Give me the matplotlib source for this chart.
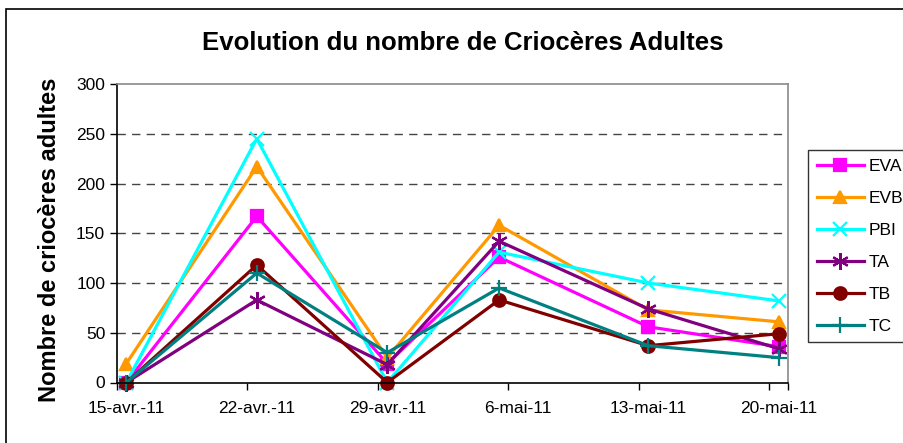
import matplotlib
matplotlib.use("Agg")
import matplotlib.pyplot as plt
import matplotlib.patches as patches
import pandas as pd

plt.rcParams['font.family'] = ['Liberation Sans', 'DejaVu Sans']

# sampling dates and counts
dates = ['2011-04-15', '2011-04-22', '2011-04-29', '2011-05-05', '2011-05-13', '2011-05-20']
eva = [0, 167, 19, 126, 56, 36]
evb = [19, 217, 25, 158, 73, 61]
pbi = [0, 245, 0, 131, 100, 82]
ta = [0, 83, 18, 142, 74, 34]
tb = [0, 118, 0, 83, 37, 49]
tc = [0, 110, 30, 95, 37, 25]

tick_dates = ['2011-04-15', '2011-04-22', '2011-04-29', '2011-05-06', '2011-05-13', '2011-05-20']
tick_labels = ['15-avr.-11', '22-avr.-11', '29-avr.-11', '6-mai-11', '13-mai-11', '20-mai-11']

series = [
    ('EVA', eva, '#FF00FF', 's', 9),
    ('EVB', evb, '#FF9900', '^', 9),
    ('PBI', pbi, '#00FFFF', 'x', 10),
    ('TA', ta, '#800080', (6, 2, 0), 12),
    ('TB', tb, '#800000', 'o', 9),
    ('TC', tc, '#008080', '+', 12),
]

# Excel date axis: one cell per day, point drawn in the middle of its day
start = pd.Timestamp(dates[0])
x = [(pd.Timestamp(d) - start).days + 0.5 for d in dates]
tx = [(pd.Timestamp(d) - start).days for d in tick_dates]

fig = plt.figure(figsize=(9.04, 4.43), dpi=100)
ax = fig.add_axes([117 / 904, 1 - 382.5 / 443, (788 - 117) / 904, (382.5 - 84) / 443])

for name, vals, col, mk, ms in series:
    ax.plot(x, vals, color=col, lw=2.3, marker=mk, markersize=ms,
            markeredgewidth=1.6, markerfacecolor=col, markeredgecolor=col,
            label=name, clip_on=False)

ax.set_xlim(0, 36)
ax.set_ylim(0, 300)
ax.set_yticks(range(0, 301, 50))
for v in range(50, 300, 50):
    ax.axhline(v, color='#444444', lw=1.0, ls=(0, (6, 4.5)), zorder=0)

ax.set_xticks(list(range(0, 36, 7)) + [36])
ax.set_xticklabels([])
ax.set_xticks([t + 0.5 for t in tx], minor=True)
ax.set_xticklabels(tick_labels, minor=True)
ax.tick_params(axis='x', which='major', direction='out', length=5, width=1)
ax.tick_params(axis='x', which='minor', length=0, pad=13, labelsize=12.5)
ax.tick_params(axis='y', direction='out', length=5, width=1, pad=3.5, labelsize=12.5)

ax.spines['left'].set_linewidth(1.2)
ax.spines['bottom'].set_linewidth(1.2)
for s in ['top', 'right']:
    ax.spines[s].set_color('#8a8a8a')
    ax.spines[s].set_linewidth(1.2)

ax.set_ylabel('Nombre de criocères adultes', fontsize=17, fontweight='bold')
ax.yaxis.set_label_coords(-0.083, 0.477)
fig.text(0.512, 1 - 43 / 443, 'Evolution du nombre de Criocères Adultes',
         ha='center', va='center', fontsize=18.5, fontweight='bold')

leg = ax.legend(loc='upper left', bbox_to_anchor=(808 / 904, 1 - 150 / 443),
                bbox_transform=fig.transFigure, fontsize=12.5, frameon=True,
                fancybox=False, edgecolor='black', borderaxespad=0,
                handlelength=2.7, handletextpad=0.3, labelspacing=0.97,
                borderpad=0.5)
leg.get_frame().set_linewidth(1.0)

# outer chart frame
fig.add_artist(patches.Rectangle((6 / 904, -0.1), 1.2, 0.1 + 434 / 443,
                                 transform=fig.transFigure, fill=False,
                                 edgecolor='black', lw=1.2))

fig.savefig('out.png', dpi=100)
